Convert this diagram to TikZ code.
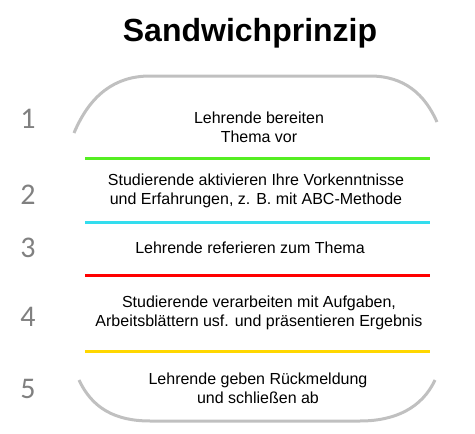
\documentclass[tikz,border=0pt]{standalone}
\usepackage{fontspec}
\setmainfont{Liberation Sans}
\newfontfamily\numfont{Carlito}
\definecolor{arcgray}{HTML}{C0C0C0}
\definecolor{numgray}{HTML}{808080}
\definecolor{lgreen}{HTML}{55EE22}
\definecolor{lcyan}{HTML}{33DDEE}
\definecolor{lred}{HTML}{FF0000}
\definecolor{lyellow}{HTML}{FFD700}
\begin{document}
\begin{tikzpicture}[x=1pt,y=-1pt,
  arcline/.style={draw=arcgray,line width=3pt},
  sepline/.style={line width=3pt},
  num/.style={text=numgray,font=\numfont\fontsize{30}{32}\selectfont,inner sep=0pt},
  body/.style={align=center,font=\fontsize{16}{19}\selectfont,inner sep=0pt},
  title/.style={font=\bfseries\fontsize{32}{36}\selectfont,inner sep=0pt}]
\useasboundingbox (0,0) rectangle (475,434);
\node[title] (t) at (250,33) {Sandwichprinzip};
% bread
\draw[arcline] (74,133) .. controls (90,95) and (115,76) .. (150,76) -- (370,76) .. controls (405,76) and (425,95) .. (437,122);
\draw[arcline] (79,380) .. controls (92,408) and (115,421) .. (150,421) -- (360,421) .. controls (395,421) and (422,408) .. (435,380);
% layers
\coordinate (g1) at (85,158); \coordinate (g2) at (430,158);
\coordinate (c1) at (85,222); \coordinate (c2) at (430,222);
\coordinate (r1) at (85,275); \coordinate (r2) at (430,275);
\coordinate (y1) at (85,351); \coordinate (y2) at (430,351);
\draw[sepline,lgreen] (g1) -- (g2);
\draw[sepline,lcyan] (c1) -- (c2);
\draw[sepline,lred] (r1) -- (r2);
\draw[sepline,lyellow] (y1) -- (y2);
% numbers
\node[num] (n1) at (28,119) {1};
\node[num] (n2) at (28,195) {2};
\node[num] (n3) at (28,248) {3};
\node[num] (n4) at (28,317) {4};
\node[num] (n5) at (28,389) {5};
% texts
\node[body] (b1) at (259,127) {Lehrende bereiten\\Thema vor};
\node[body] (b2) at (256,191) {Studierende aktivieren Ihre Vorkenntnisse\\und Erfahrungen, z. B. mit ABC-Methode};
\node[body] (b3) at (250,248) {Lehrende referieren zum Thema};
\node[body] (b4) at (259,313) {Studierende verarbeiten mit Aufgaben,\\Arbeitsblättern usf. und präsentieren Ergebnis};
\node[body] (b5) at (258,388) {Lehrende geben Rückmeldung\\und schließen ab};
\end{tikzpicture}
\end{document}
